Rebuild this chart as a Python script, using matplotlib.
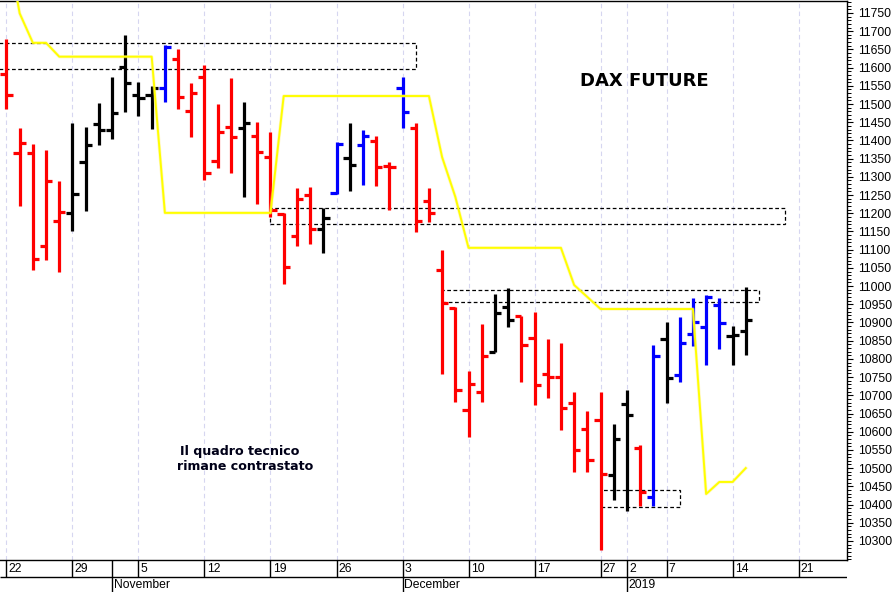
import numpy as np
import pandas as pd
import matplotlib
matplotlib.use("Agg")
import matplotlib.pyplot as plt
from matplotlib.patches import Rectangle

# ---------------- data ----------------
holidays = ["2018-12-24", "2018-12-25", "2018-12-26", "2018-12-31", "2019-01-01"]
axis_days = pd.bdate_range("2018-10-22", "2019-01-25")
axis_days = axis_days[~axis_days.isin(pd.to_datetime(holidays))]

opens = [11582, 11365, 11365, 11110, 11179, 11201, 11341, 11445, 11429, 11602,
         11525, 11525, 11544, 11624, 11481, 11574, 11344, 11437, 11434, 11412,
         11354, 11198, 11137, 11250, 11157, 11256, 11352, 11387, 11398, 11330,
         11544, 11434, 11234, 11044, 10940, 10660, 10709, 10819, 10943, 10918,
         10857, 10759, 10750, 10679, 10607, 10632, 10481, 10676, 10555, 10421,
         10855, 10756, 10868, 10888, 10948, 10863, 10877]
highs = [11679, 11434, 11390, 11374, 11289, 11448, 11437, 11503, 11574, 11690,
         11560, 11550, 11662, 11651, 11558, 11607, 11500, 11571, 11506, 11451,
         11423, 11201, 11269, 11272, 11214, 11396, 11448, 11429, 11412, 11341,
         11574, 11448, 11269, 11099, 10943, 10767, 10896, 10978, 10995, 10918,
         10929, 10855, 10844, 10709, 10657, 10709, 10621, 10715, 10563, 10838,
         10901, 10915, 10967, 10975, 10967, 10890, 10997]
lows = [11486, 11220, 11044, 11072, 11039, 11151, 11206, 11387, 11404, 11478,
        11467, 11431, 11506, 11486, 11409, 11291, 11324, 11311, 11245, 11225,
        11190, 11006, 11110, 11116, 11091, 11253, 11261, 11278, 11275, 11209,
        11434, 11148, 11176, 10759, 10682, 10585, 10682, 10819, 10888, 10737,
        10673, 10693, 10605, 10489, 10489, 10275, 10412, 10382, 10396, 10396,
        10679, 10737, 10835, 10783, 10827, 10783, 10811]
closes = [11525, 11393, 11074, 11289, 11203, 11253, 11387, 11429, 11475, 11558,
          11517, 11544, 11657, 11519, 11530, 11311, 11423, 11409, 11448, 11368,
          11209, 11052, 11239, 11157, 11187, 11390, 11333, 11412, 11327, 11327,
          11478, 11179, 11201, 10954, 10715, 10731, 10808, 10926, 10907, 10838,
          10728, 10750, 10665, 10550, 10522, 10484, 10580, 10646, 10434, 10808,
          10747, 10844, 10901, 10970, 10899, 10866, 10907]
bar_colors = list("rrrrr" "kkkkkkk" "b" "rrrrr" "k" "rrrrr" "k" "b" "k" "b" "rr" "b"
                  "rrrrrr" "kk" "rrrrrrr" "kk" "r" "b" "k" "bbbb" "kk")
stop_line = [11950, 11749, 11668, 11668, 11630, 11630, 11630, 11630, 11630, 11630,
             11630, 11630, 11201, 11201, 11201, 11201, 11201, 11201, 11201, 11201,
             11201, 11522, 11522, 11522, 11522, 11522, 11522, 11522, 11522, 11522,
             11522, 11522, 11522, 11354, 11245, 11105, 11105, 11105, 11105, 11105,
             11105, 11105, 11105, 11003, 10970, 10937, 10937, 10937, 10937, 10937,
             10937, 10937, 10937, 10429, 10462, 10462, 10500]
# zones: start / end bar index, low / high price
zone_start = [-1, 20, 33, 45]
zone_end = [31, 59, 57, 51]
zone_low = [11596, 11170, 10956, 10393]
zone_high = [11668, 11214, 10989, 10440]

month_names = {11: "November", 12: "December", 1: "2019"}

n = len(opens)
idx = np.arange(n)
cmap = {"r": "#FF0000", "k": "#000000", "b": "#0000FF"}

# ---------------- figure ----------------
W, H = 896, 592
fig = plt.figure(figsize=(W / 100, H / 100), dpi=100)
fig.patch.set_facecolor("white")

ax = fig.add_axes([0, (H - 560) / H, 847 / W, 559.5 / H])
xlim = (-0.49, 63.67)
ax.set_xlim(*xlim)
ax.set_ylim(10247.7, 11784.3)

# week gridlines
iso = axis_days.isocalendar()
week_key = (iso["year"].astype(str) + "-" + iso["week"].astype(str)).values
week_idx = [i for i in range(len(axis_days)) if i == 0 or week_key[i] != week_key[i - 1]]
ax.set_xticks(week_idx)
ax.grid(axis="x", color="#D6D6F0", linestyle=(0, (4, 3)), lw=0.8, zorder=0)
ax.tick_params(axis="x", length=0, labelbottom=False)

# zones
for s, e, lo, hi in zip(zone_start, zone_end, zone_low, zone_high):
    ax.add_patch(Rectangle((s, lo), e - s, hi - lo, fill=False, ec="black",
                           lw=0.9, ls=(0, (3, 2)), zorder=2))

# OHLC bars
tl = 0.47
cols = [cmap[c] for c in bar_colors]
ax.vlines(idx, lows, highs, colors=cols, lw=2.3, zorder=3)
ax.hlines(opens, idx - tl, idx, colors=cols, lw=2.3, zorder=3)
ax.hlines(closes, idx, idx + tl, colors=cols, lw=2.3, zorder=3)

# stop line
ax.plot(idx, stop_line, color="#FFF080", lw=2.4, alpha=0.45, zorder=4)
ax.plot(idx, stop_line, color="#FFFF00", lw=1.4, zorder=4)

# right price axis
ax.yaxis.tick_right()
ax.set_yticks(np.arange(10300, 11751, 50))
ax.set_yticks(np.arange(10250, 11781, 10), minor=True)
ax.tick_params(axis="y", which="major", direction="out", length=4.3, width=0.8,
               pad=4.0, labelsize=8.7, colors="black")
ax.tick_params(axis="y", which="minor", direction="out", length=2.8, width=0.7)
for lab in ax.get_yticklabels():
    lab.set_family("Liberation Sans")
ax.spines["left"].set_visible(False)
for sp in ("top", "right", "bottom"):
    ax.spines[sp].set_linewidth(1.0)
    ax.spines[sp].set_color("black")

# ---------------- date axis ----------------
ax2 = fig.add_axes([0, 0, 847 / W, 32 / H])
ax2.set_xlim(*xlim)
ax2.set_ylim(32, 0)
ax2.axis("off")
ax2.hlines(17, xlim[0], xlim[1], colors="black", lw=1.0)
month_idx = [i for i in range(1, len(axis_days))
             if axis_days[i].month != axis_days[i - 1].month]
for i in week_idx:
    top_only = i not in month_idx
    ax2.vlines(i, 0, 17 if top_only else 32, colors="black", lw=1.0)
    ax2.text(i + 0.17, 9.5, str(axis_days[i].day), ha="left", va="center",
             fontsize=8.7, family="Liberation Sans")
for i in month_idx:
    if i not in week_idx:
        ax2.vlines(i, 0, 32, colors="black", lw=1.0)
    ax2.text(i + 0.12, 25.5, month_names[axis_days[i].month], ha="left", va="center",
             fontsize=8.7, family="Liberation Sans")

# ---------------- texts ----------------
fig.text(644 / W, 1 - 81 / H, "DAX FUTURE", ha="center", va="center",
         fontsize=13, fontweight="bold", family="DejaVu Sans", color="black")
fig.text(240 / W, 1 - 451 / H, "Il quadro tecnico", ha="center", va="center",
         fontsize=9.1, fontweight="bold", family="DejaVu Sans", color="#000018")
fig.text(245 / W, 1 - 466 / H, "rimane contrastato", ha="center", va="center",
         fontsize=9.1, fontweight="bold", family="DejaVu Sans", color="#000018")

fig.savefig("out.png", dpi=100)
